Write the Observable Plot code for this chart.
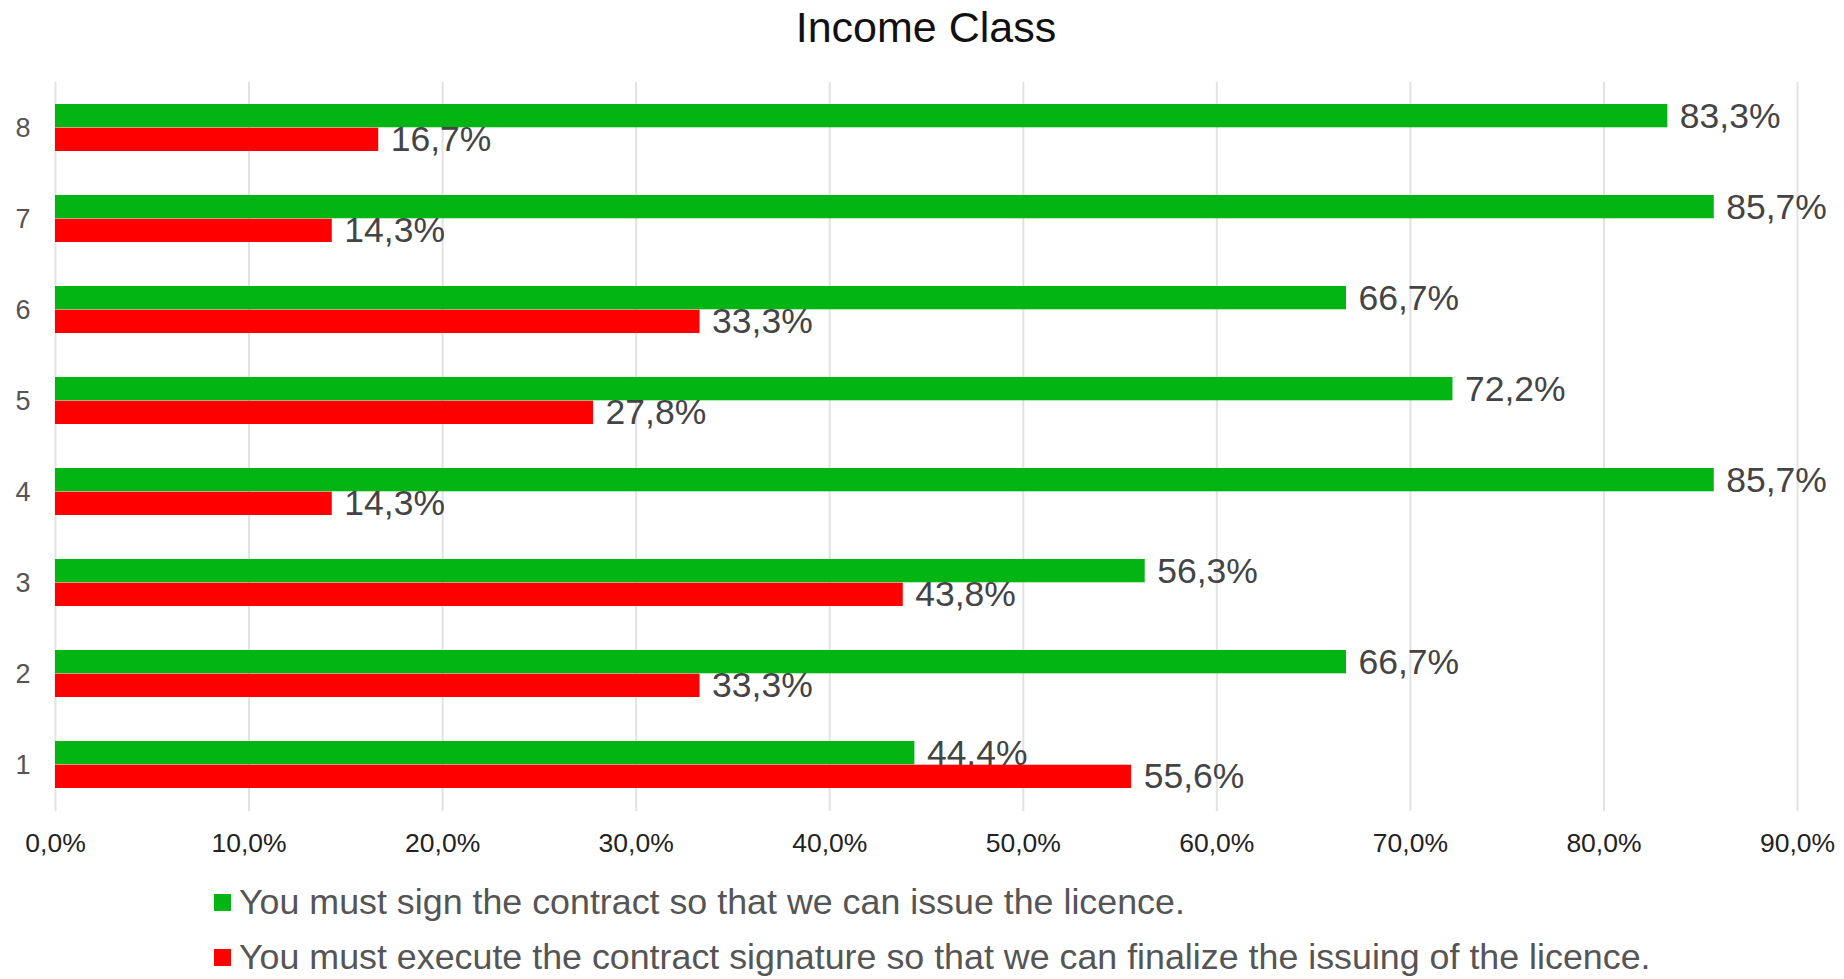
<!DOCTYPE html>
<html>
<head>
<meta charset="utf-8">
<script src="https://cdn.jsdelivr.net/npm/d3@7"></script>
<script src="https://cdn.jsdelivr.net/npm/@observablehq/plot@0.6"></script>
<style>
  html, body { margin: 0; padding: 0; background: #fff; }
  body { width: 1844px; font-family: "Liberation Sans", Arial, sans-serif; }
  #title { height: 60px; margin-left: 55px; width: 1742px; text-align: center; font-size: 43px; line-height: 54px; color: #111; }
  #legend { padding-top: 5px; padding-left: 214px; }
  .row { height: 55px; line-height: 55px; font-size: 35.8px; color: #555; white-space: nowrap; display: flex; align-items: center; }
  .sw { width: 17px; height: 17px; margin-right: 8px; flex: none; }
</style>
</head>
<body>
<div id="title"></div>
<div id="chart"></div>
<div id="legend"></div>
<script>
const titleText = "Income Class";
const categories = [1, 2, 3, 4, 5, 6, 7, 8];
const signValues = [0.444, 0.667, 0.563, 0.857, 0.722, 0.667, 0.857, 0.833];
const executeValues = [0.556, 0.333, 0.438, 0.143, 0.278, 0.333, 0.143, 0.167];
const seriesNames = [
  "You must sign the contract so that we can issue the licence.",
  "You must execute the contract signature so that we can finalize the issuing of the licence."
];
const seriesColors = ["#03b512", "#fe0000"];
const xTicks = [0, 0.1, 0.2, 0.3, 0.4, 0.5, 0.6, 0.7, 0.8, 0.9];

const data = categories.map((c, i) => ({cat: c, sign: signValues[i], exec: executeValues[i]}));
const fmt = v => (v * 100).toFixed(1).replace(".", ",") + "%";

document.getElementById("title").textContent = titleText;

const half = 23.7;
const chart = Plot.plot({
  width: 1844,
  height: 810,
  marginTop: 22,
  marginBottom: 59,
  marginLeft: 55,
  marginRight: 47,
  style: {fontFamily: "'Liberation Sans', Arial, sans-serif", background: "#fff"},
  x: {domain: [0, 0.9]},
  y: {domain: categories.slice().reverse(), paddingInner: 0.48, paddingOuter: 0.24},
  marks: [
    Plot.gridX(xTicks, {stroke: "#e2e2e2", strokeOpacity: 1, strokeWidth: 2}),
    Plot.axisX({ticks: xTicks, tickFormat: fmt, tickSize: 0, tickPadding: 22, fontSize: 26.5, fill: "#222", label: null}),
    Plot.axisY({tickSize: 0, tickPadding: 25, fontSize: 27, fill: "#555", label: null}),
    Plot.barX(data, {x: "sign", y: "cat", fill: seriesColors[0], insetBottom: half}),
    Plot.text(data, {x: "sign", y: "cat", text: d => fmt(d.sign), dx: 12, dy: -11, textAnchor: "start", fontSize: 35.5, fill: "#444"}),
    Plot.barX(data, {x: "exec", y: "cat", fill: seriesColors[1], insetTop: half}),
    Plot.text(data, {x: "exec", y: "cat", text: d => fmt(d.exec), dx: 12, dy: 12, textAnchor: "start", fontSize: 35.5, fill: "#444"})
  ]
});
document.getElementById("chart").appendChild(chart);

const legend = document.getElementById("legend");
seriesNames.forEach((name, i) => {
  const row = document.createElement("div");
  row.className = "row";
  const sw = document.createElement("span");
  sw.className = "sw";
  sw.style.background = seriesColors[i];
  const t = document.createElement("span");
  t.textContent = name;
  row.appendChild(sw);
  row.appendChild(t);
  legend.appendChild(row);
});
</script>
</body>
</html>
